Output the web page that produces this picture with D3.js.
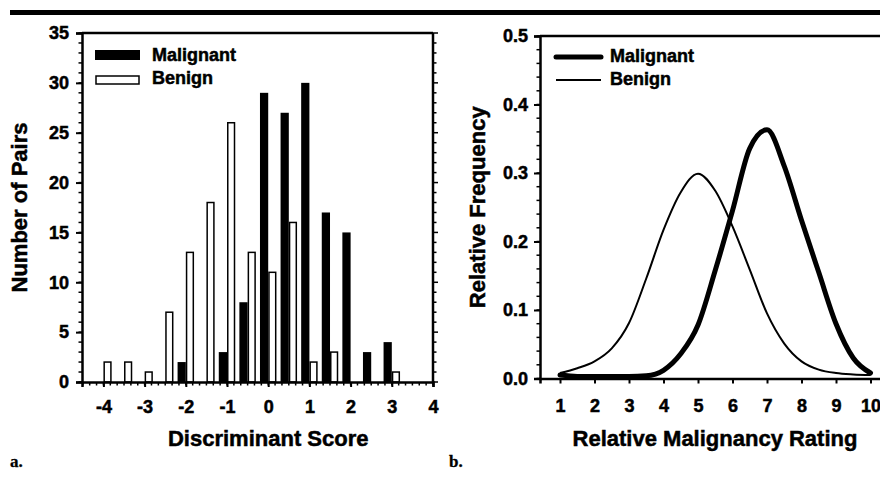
<!DOCTYPE html>
<html>
<head>
<meta charset="utf-8">
<script src="https://cdn.jsdelivr.net/npm/d3@7"></script>
<style>
  html, body { margin: 0; padding: 0; background: #fff; }
  svg text { font-family: "Liberation Sans", Arial, Helvetica, sans-serif; font-weight: bold; fill: #000; stroke: #000; stroke-width: 0.5px; }
  svg text.panel { font-family: "Liberation Serif", "Times New Roman", serif; stroke-width: 0.3px; }
</style>
</head>
<body>
<svg id="fig" width="880" height="490"></svg>
<script>
// Panel a: histogram of discriminant scores (bins every 0.5)
const binCenters      = [-4, -3.5, -3, -2.5, -2, -1.5, -1, -0.5, 0, 0.5, 1, 1.5, 2, 2.5, 3];
const malignantCounts = [ 0,    0,  0,    0,  2,    0,  3,    8, 29, 27, 30, 17, 15,  3, 4];
const benignCounts    = [ 2,    2,  1,    7, 13,   18, 26,   13, 11, 16,  2,  3,  0,  0, 1];
const scoreTicks = [-4, -3, -2, -1, 0, 1, 2, 3, 4];
const pairTicks  = [0, 5, 10, 15, 20, 25, 30, 35];

// Panel b: relative frequency curves over the rating scale
const ratings         = [1, 1.5, 2, 2.5, 3, 3.5, 4, 4.5, 5, 5.5, 6, 6.5, 7, 7.5, 8, 8.5, 9, 9.5, 10];
const malignantFreq   = [0.005, 0.003, 0.003, 0.003, 0.003, 0.004, 0.012, 0.036, 0.078, 0.158, 0.245, 0.336, 0.363, 0.310, 0.231, 0.155, 0.080, 0.030, 0.008];
const benignFreq      = [0.008, 0.015, 0.025, 0.044, 0.081, 0.146, 0.217, 0.272, 0.299, 0.274, 0.222, 0.159, 0.095, 0.051, 0.025, 0.013, 0.008, 0.006, 0.005];
const ratingTicks = [1, 2, 3, 4, 5, 6, 7, 8, 9, 10];
const freqTicks   = [0.0, 0.1, 0.2, 0.3, 0.4, 0.5];

const svg = d3.select("#fig");

// heavy rule across the top of the figure
svg.append("rect").attr("x", 10).attr("y", 10).attr("width", 870).attr("height", 5).attr("fill", "#000");

// ---------- panel a ----------
const xA = d3.scaleLinear().domain([-4.52, 4]).range([82, 433]);
const yA = d3.scaleLinear().domain([0, 35]).range([382, 33]);
const barW = 0.2;

const gA = svg.append("g");

gA.selectAll("rect.mal").data(binCenters.map((c, i) => ({c, v: malignantCounts[i]})).filter(d => d.v > 0))
  .join("rect").attr("class", "mal")
  .attr("x", d => xA(d.c - barW)).attr("width", d => xA(d.c) - xA(d.c - barW))
  .attr("y", d => yA(d.v)).attr("height", d => yA(0) - yA(d.v))
  .attr("fill", "#000");

gA.selectAll("rect.ben").data(binCenters.map((c, i) => ({c, v: benignCounts[i]})).filter(d => d.v > 0))
  .join("rect").attr("class", "ben")
  .attr("x", d => xA(d.c) + 0.75).attr("width", d => xA(d.c + barW) - xA(d.c) - 1.5)
  .attr("y", d => yA(d.v)).attr("height", d => yA(0) - yA(d.v))
  .attr("fill", "#fff").attr("stroke", "#000").attr("stroke-width", 1.5);

// axes
const axA_bottom = d3.axisBottom(xA).tickValues(scoreTicks).tickSize(5).tickFormat(d => d < 0 ? "-" + Math.abs(d) : d);
const gxA = gA.append("g").attr("transform", `translate(0,${yA(0)})`).call(axA_bottom);
gxA.select(".domain").attr("stroke-width", 2.5);
gxA.selectAll(".tick line").attr("stroke-width", 2);
gxA.selectAll(".tick text").attr("font-size", 18).attr("dy", null).attr("y", 31).attr("font-family", null);
const minorA = d3.range(-4.5, 4.01, 1 / 6);
gA.append("g").attr("transform", `translate(0,${yA(0)})`)
  .selectAll("line").data(minorA).join("line")
  .attr("x1", d => xA(d)).attr("x2", d => xA(d)).attr("y1", 0).attr("y2", 3.5)
  .attr("stroke", "#000").attr("stroke-width", 1.5);

const axA_left = d3.axisLeft(yA).tickValues(pairTicks).tickSize(6);
const gyA = gA.append("g").attr("transform", `translate(${xA.range()[0]},0)`).call(axA_left);
gyA.select(".domain").attr("stroke-width", 2.5);
gyA.selectAll(".tick line").attr("stroke-width", 2);
gyA.selectAll(".tick text").attr("font-size", 18).attr("x", -13).attr("font-family", null);
gA.append("g").selectAll("line").data(d3.range(0, 36, 1)).join("line")
  .attr("x1", xA.range()[0] - 3.5).attr("x2", xA.range()[0])
  .attr("y1", d => yA(d)).attr("y2", d => yA(d)).attr("stroke", "#000").attr("stroke-width", 1.5);

// frame: top and right edges with mirrored ticks
gA.append("line").attr("x1", xA.range()[0]).attr("x2", xA.range()[1]).attr("y1", yA(35)).attr("y2", yA(35))
  .attr("stroke", "#000").attr("stroke-width", 2.5);
gA.append("line").attr("x1", xA.range()[1]).attr("x2", xA.range()[1]).attr("y1", yA(35)).attr("y2", yA(0))
  .attr("stroke", "#000").attr("stroke-width", 2.5);
gA.append("g").selectAll("line").data(d3.range(0, 36, 1)).join("line")
  .attr("x1", xA.range()[1]).attr("x2", d => xA.range()[1] + (d % 5 === 0 ? 5 : 3.5))
  .attr("y1", d => yA(d)).attr("y2", d => yA(d)).attr("stroke", "#000").attr("stroke-width", 1.5);

// titles
gA.append("text").attr("x", xA(0)).attr("y", 446).attr("text-anchor", "middle").attr("font-size", 22)
  .text("Discriminant Score");
gA.append("text").attr("transform", `translate(27,${yA(17.5)}) rotate(-90)`).attr("text-anchor", "middle")
  .attr("font-size", 22).text("Number of Pairs");

// legend
gA.append("rect").attr("x", 95).attr("y", 50).attr("width", 45).attr("height", 10).attr("fill", "#000");
gA.append("rect").attr("x", 96).attr("y", 76).attr("width", 43).attr("height", 8)
  .attr("fill", "#fff").attr("stroke", "#000").attr("stroke-width", 1.5);
gA.append("text").attr("x", 152).attr("y", 61).attr("font-size", 18).text("Malignant");
gA.append("text").attr("x", 152).attr("y", 84).attr("font-size", 18).text("Benign");

svg.append("text").attr("class", "panel").attr("x", 10).attr("y", 467).attr("font-size", 17).text("a.");

// ---------- panel b ----------
const xB = d3.scaleLinear().domain([0.42, 10.6]).range([540, 891.2]);
const yB = d3.scaleLinear().domain([0, 0.5]).range([378.5, 36]);
const gB = svg.append("g");

const line = d3.line().x(d => xB(d[0])).y(d => yB(d[1])).curve(d3.curveMonotoneX);
gB.append("path").datum(ratings.map((r, i) => [r, benignFreq[i]]))
  .attr("d", line).attr("fill", "none").attr("stroke", "#000").attr("stroke-width", 2);
gB.append("path").datum(ratings.map((r, i) => [r, malignantFreq[i]]))
  .attr("d", line).attr("fill", "none").attr("stroke", "#000").attr("stroke-width", 5).attr("stroke-linecap", "round");

const axB_bottom = d3.axisBottom(xB).tickValues(ratingTicks).tickSize(5);
const gxB = gB.append("g").attr("transform", `translate(0,${yB(0)})`).call(axB_bottom);
gxB.select(".domain").attr("stroke-width", 2.5);
gxB.selectAll(".tick line").attr("stroke-width", 2);
gxB.selectAll(".tick text").attr("font-size", 18).attr("dy", null).attr("y", 33).attr("font-family", null);

const axB_left = d3.axisLeft(yB).tickValues(freqTicks).tickSize(6).tickFormat(d3.format(".1f"));
const gyB = gB.append("g").attr("transform", `translate(${xB.range()[0]},0)`).call(axB_left);
gyB.select(".domain").attr("stroke-width", 2.5);
gyB.selectAll(".tick line").attr("stroke-width", 2);
gyB.selectAll(".tick text").attr("font-size", 18).attr("x", -12).attr("font-family", null);
gB.append("g").selectAll("line").data(d3.range(0, 0.501, 0.02)).join("line")
  .attr("x1", xB.range()[0] - 3.5).attr("x2", xB.range()[0])
  .attr("y1", d => yB(d)).attr("y2", d => yB(d)).attr("stroke", "#000").attr("stroke-width", 1.5);

gB.append("line").attr("x1", xB.range()[0]).attr("x2", 880).attr("y1", yB(0.5)).attr("y2", yB(0.5))
  .attr("stroke", "#000").attr("stroke-width", 2.5);

gB.append("text").attr("x", 715).attr("y", 446).attr("text-anchor", "middle").attr("font-size", 22)
  .text("Relative Malignancy Rating");
gB.append("text").attr("transform", `translate(485,${yB(0.25)}) rotate(-90)`).attr("text-anchor", "middle")
  .attr("font-size", 22).text("Relative Frequency");

// legend
gB.append("line").attr("x1", 556).attr("x2", 601).attr("y1", 57).attr("y2", 57)
  .attr("stroke", "#000").attr("stroke-width", 5).attr("stroke-linecap", "round");
gB.append("line").attr("x1", 556).attr("x2", 601).attr("y1", 80).attr("y2", 80)
  .attr("stroke", "#000").attr("stroke-width", 2);
gB.append("text").attr("x", 610).attr("y", 62).attr("font-size", 18).text("Malignant");
gB.append("text").attr("x", 610).attr("y", 85).attr("font-size", 18).text("Benign");

svg.append("text").attr("class", "panel").attr("x", 449).attr("y", 467).attr("font-size", 17).text("b.");
</script>
</body>
</html>
